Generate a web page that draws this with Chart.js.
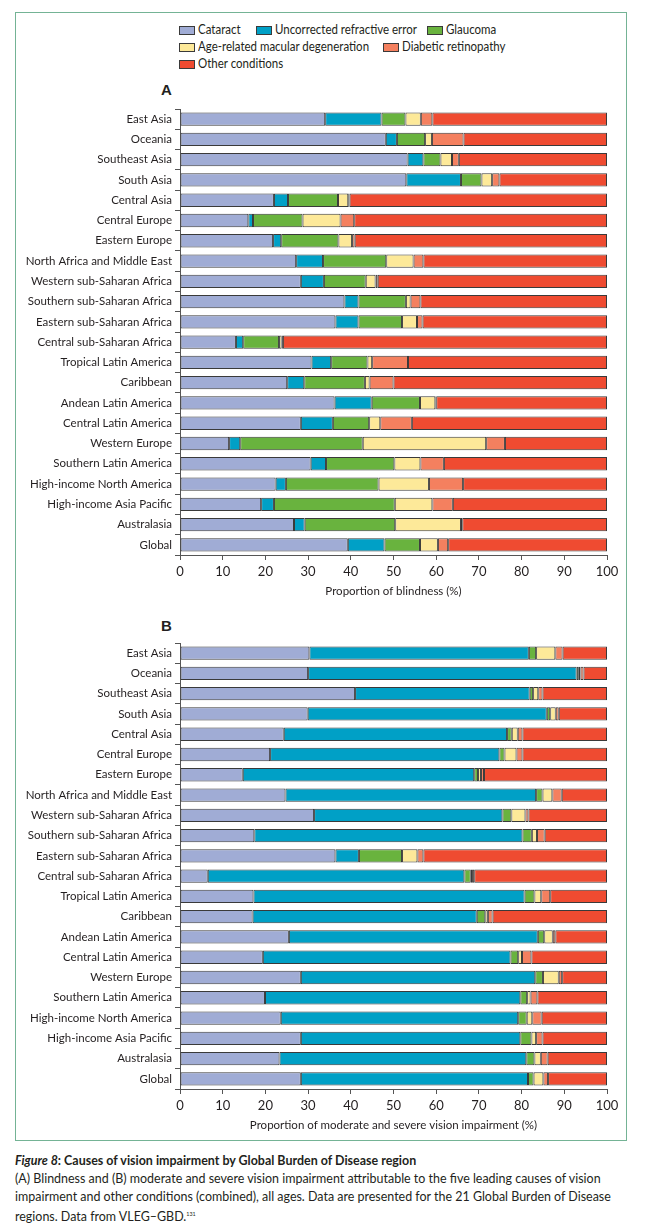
<!DOCTYPE html>
<html>
<head>
<meta charset="utf-8">
<script src="https://cdn.jsdelivr.net/npm/chart.js@4.4.1/dist/chart.umd.min.js"></script>
<style>
  body { margin: 0; width: 650px; height: 1226px; background: #fff; position: relative; overflow: hidden;
         font-family: Lato, "Liberation Sans", sans-serif; color: #231f20; }
  #frame { position: absolute; left: 15px; top: 12px; width: 612px; height: 1129px; border: 1.5px solid #74b395; box-sizing: border-box; }
  .sw { position: absolute; width: 16px; height: 9px; border: 1px solid #3a3a3a; box-sizing: border-box; }
  .lt { position: absolute; font-size: 12.5px; line-height: 14px; white-space: nowrap; transform: scaleX(0.92); transform-origin: 0 0; }
  .panel { position: absolute; font-family: "Liberation Sans", sans-serif; font-weight: bold; font-size: 15px; }
  canvas { position: absolute; left: 0; }
  #cap { position: absolute; left: 15px; top: 1151px; font-size: 14px; line-height: 18px; white-space: nowrap;
         transform: scaleX(0.89); transform-origin: 0 0; }
  #cap sup { font-size: 6px; vertical-align: 5px; }
</style>
</head>
<body>
<div id="frame"></div>
<div id="legend"></div>
<div class="panel" style="left:161px;top:81px">A</div>
<div class="panel" style="left:161px;top:617px">B</div>
<canvas id="chartA" width="650" height="503" style="top:95px;width:650px;height:503px"></canvas>
<canvas id="chartB" width="650" height="503" style="top:629px;width:650px;height:503px"></canvas>
<div id="cap">
  <b><i>Figure 8</i>: Causes of vision impairment by Global Burden of Disease region</b><br>
  (A) Blindness and (B) moderate and severe vision impairment attributable to the five leading causes of vision<br>
  impairment and other conditions (combined), all ages. Data are presented for the 21 Global Burden of Disease<br>
  regions. Data from VLEG–GBD.<sup>131</sup>
</div>
<script>
const regions = ["East Asia", "Oceania", "Southeast Asia", "South Asia", "Central Asia", "Central Europe",
  "Eastern Europe", "North Africa and Middle East", "Western sub-Saharan Africa", "Southern sub-Saharan Africa",
  "Eastern sub-Saharan Africa", "Central sub-Saharan Africa", "Tropical Latin America", "Caribbean",
  "Andean Latin America", "Central Latin America", "Western Europe", "Southern Latin America",
  "High-income North America", "High-income Asia Pacific", "Australasia", "Global"];

const causes = ["Cataract", "Uncorrected refractive error", "Glaucoma",
  "Age-related macular degeneration", "Diabetic retinopathy", "Other conditions"];
const causeColors = ["#a0acd5", "#00a0c6", "#69b33e", "#fde999", "#f4805f", "#ef4b31"];

// (A) proportion of blindness, %
const blindCataract   = [34.0, 48.2, 53.3, 53.0, 22.0, 16.0, 21.8, 27.2, 28.3, 38.5, 36.4, 13.1, 30.8, 25.1, 36.2, 28.3, 11.5, 30.6, 22.4, 19.0, 26.7, 39.3];
const blindRefractive = [13.2, 2.6, 3.7, 12.8, 3.3, 1.1, 1.9, 6.3, 5.4, 3.3, 5.4, 1.7, 4.6, 4.0, 8.7, 7.5, 2.6, 3.6, 2.4, 3.0, 2.5, 8.6];
const blindGlaucoma   = [5.6, 6.6, 4.0, 4.8, 11.7, 11.6, 13.4, 14.8, 9.8, 11.1, 10.2, 8.4, 8.5, 14.2, 11.3, 8.5, 28.7, 16.0, 21.7, 28.3, 21.2, 8.3];
const blindAMD        = [3.6, 1.6, 2.7, 2.5, 2.4, 8.9, 3.2, 6.4, 2.3, 1.1, 3.5, 0.6, 1.1, 1.1, 3.6, 2.6, 28.9, 6.1, 11.8, 8.8, 15.4, 4.2];
const blindDR         = [2.7, 7.4, 1.6, 1.7, 0.3, 3.2, 0.6, 2.3, 0.5, 2.3, 1.3, 0.3, 8.4, 5.6, 0.2, 7.4, 4.4, 5.5, 8.0, 4.8, 0.3, 2.4];
const blindOther      = [40.9, 33.6, 34.7, 25.2, 60.3, 59.2, 59.1, 43.0, 53.7, 43.7, 43.2, 75.9, 46.6, 50.0, 40.0, 45.7, 23.9, 38.2, 33.7, 36.1, 33.9, 37.2];

// (B) proportion of moderate and severe vision impairment, %
const mviCataract   = [30.3, 30.0, 41.0, 29.9, 24.3, 21.1, 14.7, 24.7, 31.4, 17.4, 36.4, 6.5, 17.2, 17.0, 25.5, 19.4, 28.3, 19.9, 23.6, 28.3, 23.3, 28.3];
const mviRefractive = [51.4, 62.9, 40.9, 56.0, 52.3, 53.7, 54.2, 58.7, 44.1, 62.8, 5.5, 60.1, 63.5, 52.5, 58.3, 58.0, 54.9, 59.8, 55.6, 51.4, 57.8, 53.2];
const mviGlaucoma   = [1.7, 0.5, 0.8, 0.8, 1.1, 1.2, 0.9, 1.5, 2.1, 2.2, 10.1, 1.5, 2.3, 2.0, 1.5, 1.8, 1.8, 1.6, 2.0, 2.6, 1.9, 1.3];
const mviAMD        = [4.5, 0.4, 1.2, 1.3, 1.4, 2.8, 0.7, 2.3, 3.3, 1.2, 3.6, 0.3, 1.6, 0.6, 2.0, 0.9, 3.7, 0.8, 1.3, 1.1, 1.5, 2.3];
const mviDR         = [1.7, 0.7, 1.0, 0.7, 1.1, 1.4, 0.7, 2.2, 0.7, 1.8, 1.4, 0.5, 2.1, 1.1, 0.6, 2.2, 0.8, 1.6, 2.2, 1.5, 1.6, 1.1];
const mviOther      = [10.4, 5.5, 15.1, 11.3, 19.8, 19.8, 28.8, 10.6, 18.4, 14.6, 43.0, 31.1, 13.3, 26.8, 12.1, 17.7, 10.5, 16.3, 15.3, 15.1, 13.9, 13.8];

const xTicks = [0, 10, 20, 30, 40, 50, 60, 70, 80, 90, 100];

// legend, laid out like the printed figure
const legendPos = [[179, 26], [256, 26], [427, 26], [179, 43], [383, 43], [179, 60]];
const legendEl = document.getElementById("legend");
causes.forEach((c, i) => {
  const [x, y] = legendPos[i];
  legendEl.innerHTML += `<div class="sw" style="left:${x}px;top:${y}px;background:${causeColors[i]}"></div>` +
    `<div class="lt" style="left:${x + 19}px;top:${y - 3}px">${c}</div>`;
});

const axisColor = "#555";
const fontFam = 'Lato, "Liberation Sans", sans-serif';

function makeChart(id, series, title) {
  new Chart(document.getElementById(id), {
    type: "bar",
    data: {
      labels: regions,
      datasets: series.map((d, i) => ({
        label: causes[i],
        data: d,
        backgroundColor: causeColors[i],
        borderColor: "#3a3a3a",
        borderWidth: 1,
        borderSkipped: false,
        barPercentage: 0.82,
        categoryPercentage: 0.8
      }))
    },
    options: {
      indexAxis: "y",
      responsive: false,
      animation: false,
      layout: { padding: { top: 14, right: 43, left: 0, bottom: 0 } },
      plugins: { legend: { display: false }, tooltip: { enabled: false } },
      scales: {
        x: {
          stacked: true,
          min: 0,
          max: 100,
          afterBuildTicks: s => { s.ticks = xTicks.map(v => ({ value: v })); },
          afterFit: s => { s.height = 43; },
          grid: { drawOnChartArea: false, tickLength: 5, color: axisColor },
          border: { display: true, color: axisColor, width: 1 },
          ticks: { color: "#231f20", padding: 4, font: { family: fontFam, size: 13 } },
          title: { display: true, text: title, color: "#231f20", padding: { top: 4, bottom: 0 },
                   font: { family: fontFam, size: 11.5 } }
        },
        y: {
          stacked: true,
          afterFit: s => { s.width = 180; },
          grid: { drawOnChartArea: false, offset: true, tickLength: 5, color: axisColor },
          border: { display: true, color: axisColor, width: 1 },
          ticks: { color: "#231f20", padding: 3, font: { family: fontFam, size: 11.5 } }
        }
      }
    }
  });
}

makeChart("chartA", [blindCataract, blindRefractive, blindGlaucoma, blindAMD, blindDR, blindOther],
  "Proportion of blindness (%)");
makeChart("chartB", [mviCataract, mviRefractive, mviGlaucoma, mviAMD, mviDR, mviOther],
  "Proportion of moderate and severe vision impairment (%)");
</script>
</body>
</html>
